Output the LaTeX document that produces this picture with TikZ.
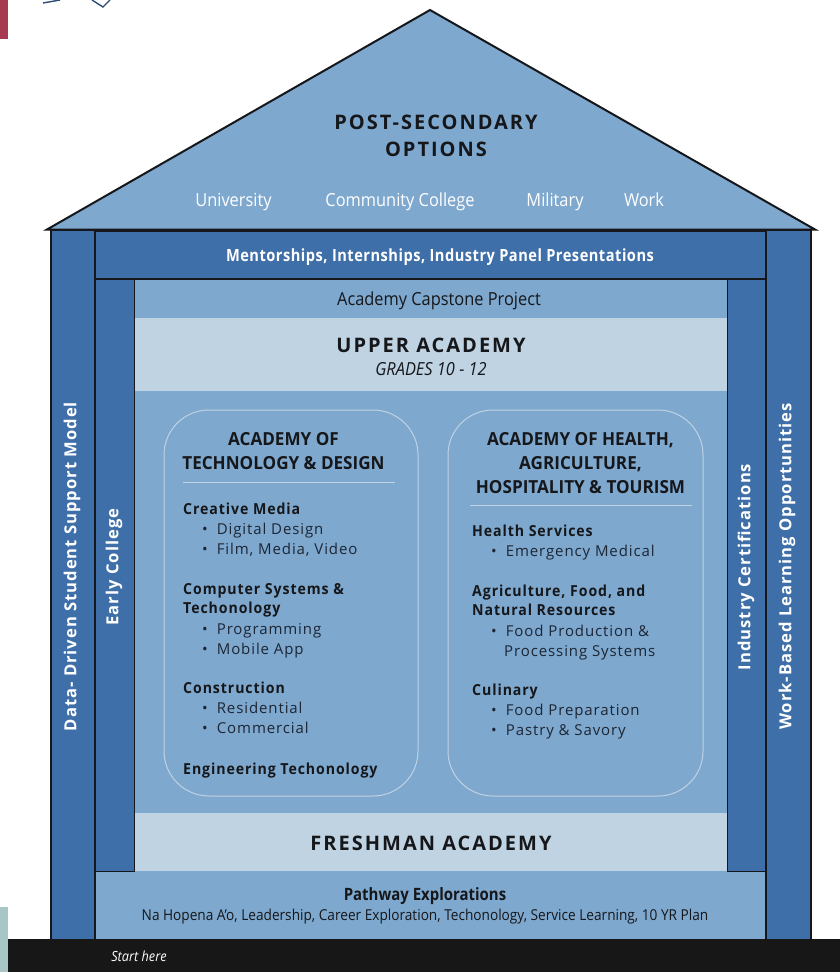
\documentclass[tikz,border=0pt]{standalone}
\usepackage{fontspec}
\setmainfont{Open Sans}[FakeStretch=0.91]
\newfontfamily\semi[FakeStretch=0.87,LetterSpace=3,UprightFont=*-Bold]{Open Sans}
\newfontfamily\pillarf[FakeStretch=1,LetterSpace=6,UprightFont=*-Bold]{Open Sans}
\newfontfamily\groupf[FakeStretch=0.93,LetterSpace=6,UprightFont=*-Bold]{Open Sans}
\newfontfamily\semiplain[FakeStretch=0.95,UprightFont=*-Bold]{Open Sans}
\newfontfamily\pathf[FakeStretch=0.88,UprightFont=*-Bold]{Open Sans}
\newfontfamily\spaced[LetterSpace=6]{Open Sans}
\newfontfamily\wide[LetterSpace=10]{Open Sans}
\definecolor{midblue}{HTML}{7EA8CE}
\definecolor{darkblue}{HTML}{3F6FA8}
\definecolor{lightblue}{HTML}{BFD3E2}
\definecolor{inkdark}{HTML}{15171A}
\definecolor{itemink}{HTML}{1C2635}
\definecolor{barblack}{HTML}{171717}
\definecolor{redfrag}{HTML}{A63A50}
\definecolor{tealfrag}{HTML}{A9C6C7}
\tikzset{
  pillar/.style={draw=inkdark,line width=2pt,fill=darkblue},
  pillarthin/.style={draw=inkdark,line width=0.9pt,fill=darkblue},
  pillartext/.style={text=white,font=\pillarf\fontsize{16.6}{17}\selectfont,rotate=90,inner sep=0pt},
  head/.style={text=inkdark,font=\wide\bfseries\fontsize{20}{27}\selectfont,align=center,inner sep=0pt},
  roofitem/.style={text=white,font=\fontsize{18}{18}\selectfont,inner sep=0pt,anchor=base},
  acadtitle/.style={text=inkdark,font=\semiplain\fontsize{18}{24}\selectfont,align=center,inner sep=0pt},
  group/.style={text=inkdark,font=\groupf\fontsize{15.2}{15.5}\selectfont,inner sep=0pt,anchor=base west},
  item/.style={text=itemink,font=\spaced\fontsize{15}{15}\selectfont,inner sep=0pt,anchor=base west},
  panel/.style={draw=lightblue,line width=1pt,rounded corners=45pt},
  rule/.style={draw=lightblue,line width=1pt}
}
\newcommand{\bul}{\textbullet}
\begin{document}
\begin{tikzpicture}[x=1pt,y=-1pt]
\useasboundingbox (0,0) rectangle (840,972);
\fill[white] (0,0) rectangle (840,972);
% page fragments
\fill[redfrag] (0,0) rectangle (8,39);
\fill[tealfrag] (0,907) rectangle (8,972);
\draw[draw=darkblue!70!black,line width=1.4pt] (43,3) -- (60,0) (92,0) -- (103,7) -- (110,0);
% roof
\draw[fill=midblue,draw=inkdark,line width=2pt,line join=miter] (47,229.5) -- (430,10) -- (815,229.5) -- cycle;
% body
\fill[midblue] (95,279) rectangle (766,939);
\fill[lightblue] (134,318) rectangle (727,391);
\fill[lightblue] (134,813) rectangle (727,871);
\draw[pillarthin] (95,279) rectangle (134,871);
\draw[pillarthin] (727,279) rectangle (766,871);
\draw[pillar,line width=1.4pt] (95,231) rectangle (766,279);
\draw[pillar] (50.5,230) rectangle (95,945);
\draw[pillar] (766,230) rectangle (810.5,945);
\draw[inkdark,line width=2.4pt] (50,230) -- (811,230);
\fill[barblack] (8,939) rectangle (840,972);
% roof text
\node[head] (post) at (436,136) {POST-SECONDARY\\OPTIONS};
\node[roofitem] (univ) at (233.5,206) {University};
\node[roofitem] (cc) at (400,206) {Community College};
\node[roofitem] (mil) at (555,206) {Military};
\node[roofitem] (work) at (644,206) {Work};
% bands
\node[text=white,font=\semi\fontsize{16.8}{17}\selectfont,inner sep=0pt] (mentor) at (440,257.5) {Mentorships, Internships, Industry Panel Presentations};
\node[text=inkdark,font=\fontsize{18}{18}\selectfont,inner sep=0pt] (cap) at (439,301) {Academy Capstone Project};
\node[head] (upper) at (431,345) {UPPER ACADEMY};
\node[text=inkdark,font=\itshape\fontsize{18}{18}\selectfont,inner sep=0pt] (grades) at (431,369) {GRADES 10 - 12};
\node[head] (fresh) at (431,843) {FRESHMAN ACADEMY};
\node[text=inkdark,font=\pathf\fontsize{17}{17}\selectfont,inner sep=0pt] (path) at (425,896) {Pathway Explorations};
\node[text=inkdark,font=\fontsize{15}{15}\selectfont,inner sep=0pt] (pathsub) at (425,917) {Na Hopena A’o, Leadership, Career Exploration, Techonology, Service Learning, 10 YR Plan};
\node[text=white,font=\itshape\fontsize{14}{14}\selectfont,inner sep=0pt] (start) at (139,956) {Start here};
% pillars text
\node[pillartext] (data) at (72,566.5) {Data- Driven Student Support Model};
\node[pillartext] (early) at (114,567) {Early College};
\node[pillartext] (cert) at (746,567) {Industry Certifications};
\node[pillartext] (wbl) at (787,566.5) {Work-Based Learning Opportunities};
% left panel
\node[panel,minimum width=254pt,minimum height=386pt] (pl) at (291,603) {};
\node[acadtitle] (tl) at (283.5,451) {ACADEMY OF\\TECHNOLOGY \& DESIGN};
\draw[rule] (183,482) -- (395,482);
\node[group] (g1) at (183,514) {Creative Media};
\node[item] (a1) at (202,534) {\bul\hspace{9pt}Digital Design};
\node[item] (a2) at (202,554) {\bul\hspace{9pt}Film, Media, Video};
\node[group] (g2) at (183,594) {Computer Systems \&};
\node[group] (g2b) at (183,613.5) {Techonology};
\node[item] (a3) at (202,634) {\bul\hspace{9pt}Programming};
\node[item] (a4) at (202,654) {\bul\hspace{9pt}Mobile App};
\node[group] (g3) at (183,693) {Construction};
\node[item] (a6) at (202,713) {\bul\hspace{9pt}Residential};
\node[item] (a5) at (202,733) {\bul\hspace{9pt}Commercial};
\node[group] (g4) at (183,774) {Engineering Techonology};
% right panel
\node[panel,minimum width=255pt,minimum height=386pt] (pr) at (575.5,603) {};
\node[acadtitle] (tr) at (580.5,463) {ACADEMY OF HEALTH,\\AGRICULTURE,\\HOSPITALITY \& TOURISM};
\draw[rule] (470,505) -- (692,505);
\node[group] (h1) at (472,536) {Health Services};
\node[item] (b1) at (491,556) {\bul\hspace{9pt}Emergency Medical};
\node[group] (h2) at (472,596) {Agriculture, Food, and};
\node[group] (h2b) at (472,615) {Natural Resources};
\node[item] (b2) at (491,636) {\bul\hspace{9pt}Food Production \&};
\node[item] (b3) at (504,656) {Processing Systems};
\node[group] (h3) at (472,695) {Culinary};
\node[item] (b4) at (491,715) {\bul\hspace{9pt}Food Preparation};
\node[item] (b5) at (491,735) {\bul\hspace{9pt}Pastry \& Savory};
\end{tikzpicture}
\end{document}
